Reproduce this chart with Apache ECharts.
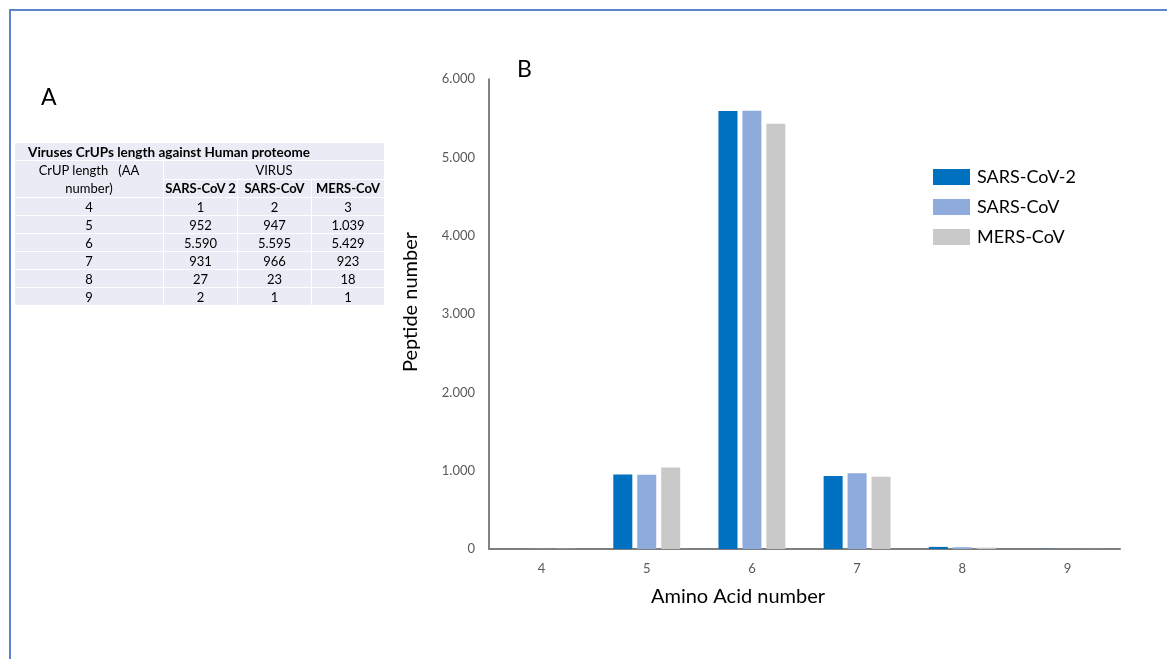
<!DOCTYPE html>
<html>
<head>
<meta charset="utf-8">
<script src="https://cdn.jsdelivr.net/npm/echarts@6/dist/echarts.min.js"></script>
<style>
  html, body { margin: 0; padding: 0; background: #fff; }
  #chart { position: absolute; left: 0; top: 0; width: 1167px; height: 659px; }
  #frame { position: absolute; left: 9px; top: 9px; width: 1200px; height: 700px;
           border: 2px solid #5b86cc; box-sizing: border-box; pointer-events: none; }
  #tbl { position: absolute; left: 14px; top: 142px; border-collapse: collapse; table-layout: fixed;
         font-family: Lato, "Liberation Sans", sans-serif; font-size: 13px; color: #000; }
  #tbl td { background: #e9ebf5; border: 1.5px solid #fff; height: 17px; padding: 0;
            text-align: center; line-height: 16px; white-space: nowrap; overflow: visible; }
  #tbl td.title { text-align: left; font-weight: bold; padding-left: 13px; font-size: 13.5px; }
  #tbl td.bold { font-weight: bold; }
</style>
</head>
<body>
<div id="chart"></div>
<table id="tbl"></table>
<div id="frame"></div>
<script>
// Panel B data
const categories = ['4', '5', '6', '7', '8', '9'];
const sarsCov2 = [1, 952, 5590, 931, 27, 2];
const sarsCov = [2, 947, 5595, 966, 23, 1];
const mersCov = [3, 1039, 5429, 923, 18, 1];
const yTicks = [0, 1000, 2000, 3000, 4000, 5000, 6000];

// Panel A table text
const tableTitle = 'Viruses CrUPs length against Human proteome';
const tableColHeads = ['SARS-CoV 2', 'SARS-CoV', 'MERS-CoV'];

const fmt = v => v >= 1000 ? Math.floor(v / 1000) + '.' + String(v % 1000).padStart(3, '0') : String(v);

// build table
const tbl = document.getElementById('tbl');
let html = '<colgroup><col style="width:149px"><col style="width:74px"><col style="width:74px"><col style="width:73px"></colgroup>';
html += '<tr><td class="title" colspan="4">' + tableTitle + '</td></tr>';
html += '<tr><td rowspan="2" style="line-height:18px">CrUP length &nbsp;&nbsp;(AA<br>number)</td><td colspan="3">VIRUS</td></tr>';
html += '<tr>' + tableColHeads.map(h => '<td class="bold">' + h + '</td>').join('') + '</tr>';
categories.forEach((c, i) => {
  html += '<tr><td>' + c + '</td><td>' + fmt(sarsCov2[i]) + '</td><td>' + fmt(sarsCov[i]) + '</td><td>' + fmt(mersCov[i]) + '</td></tr>';
});
tbl.innerHTML = html;

const chart = echarts.init(document.getElementById('chart'));
const font = 'Lato, "Liberation Sans", sans-serif';
chart.setOption({
  animation: false,
  textStyle: { fontFamily: font },
  grid: { left: 489, right: 47, top: 79, bottom: 110 },
  legend: {
    orient: 'vertical',
    left: 928, top: 163,
    itemWidth: 37, itemHeight: 16, itemGap: 12,
    icon: 'rect',
    textStyle: { fontSize: 18, color: '#000', fontFamily: font, padding: [0, 0, 0, 2] },
    data: ['SARS-CoV-2', 'SARS-CoV', 'MERS-CoV']
  },
  xAxis: {
    type: 'category',
    data: categories,
    name: 'Amino Acid number',
    nameLocation: 'middle',
    nameGap: 38,
    nameTextStyle: { fontSize: 20, color: '#000', padding: [0, 133, 0, 0] },
    axisLine: { lineStyle: { color: '#7f7f7f', width: 2 } },
    axisTick: { show: false },
    axisLabel: { fontSize: 13, color: '#595959', margin: 13 }
  },
  yAxis: {
    type: 'value',
    min: 0, max: 6000, interval: 1000,
    name: 'Peptide number',
    nameLocation: 'middle',
    nameGap: 68,
    nameTextStyle: { fontSize: 20, color: '#000', padding: [0, 0, 0, 24] },
    axisLine: { show: true, lineStyle: { color: '#595959', width: 1.5 } },
    axisTick: { show: false },
    splitLine: { show: false },
    axisLabel: { fontSize: 13, color: '#595959', margin: 14,
      formatter: v => yTicks.includes(v) ? fmt(v) : '' }
  },
  series: [
    { name: 'SARS-CoV-2', type: 'bar', data: sarsCov2, barWidth: 19, barGap: '26%',
      itemStyle: { color: '#0070c0' } },
    { name: 'SARS-CoV', type: 'bar', data: sarsCov, barWidth: 19, barGap: '26%',
      itemStyle: { color: '#8faadc' } },
    { name: 'MERS-CoV', type: 'bar', data: mersCov, barWidth: 19, barGap: '26%',
      itemStyle: { color: '#c9c9c9' } }
  ],
  graphic: [
    { type: 'text', left: 41, top: 86, style: { text: 'A', fontSize: 23, fill: '#000', fontFamily: font } },
    { type: 'text', left: 517, top: 58, style: { text: 'B', fontSize: 23, fill: '#000', fontFamily: font } }
  ]
});
</script>
</body>
</html>
